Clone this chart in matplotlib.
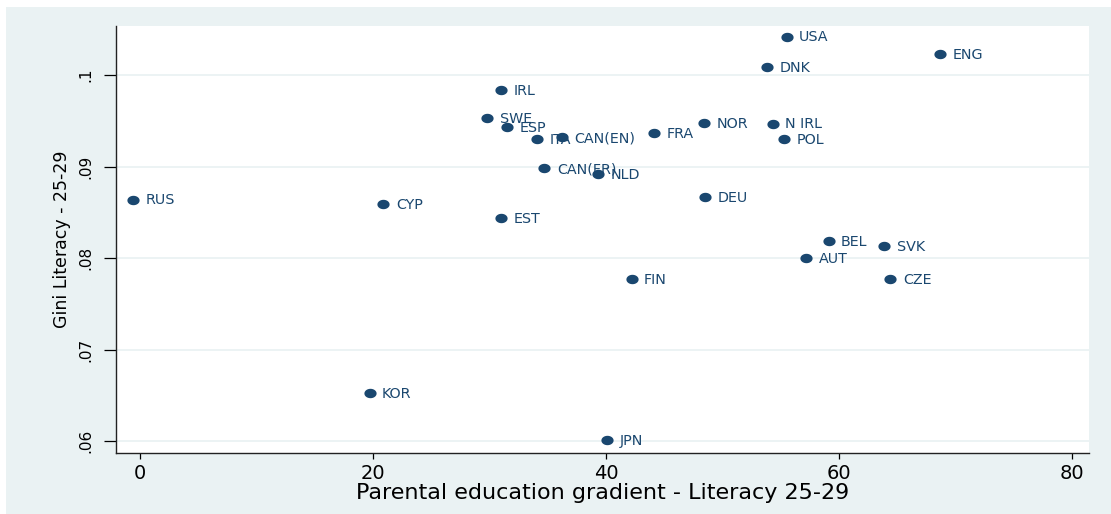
import matplotlib
matplotlib.use("Agg")
import matplotlib.pyplot as plt
import numpy as np
from matplotlib.patches import Rectangle
from matplotlib.path import Path

countries = ["USA", "ENG", "DNK", "IRL", "SWE", "ESP", "ITA", "CAN(EN)", "FRA", "NOR",
             "N IRL", "POL", "CAN(FR)", "NLD", "RUS", "CYP", "DEU", "EST", "BEL", "SVK",
             "AUT", "FIN", "CZE", "KOR", "JPN"]
gradient = [55.5, 68.7, 53.8, 31.0, 29.8, 31.5, 34.1, 36.2, 44.1, 48.4,
            54.3, 55.3, 34.7, 39.3, -0.6, 20.9, 48.5, 31.0, 59.1, 63.9,
            57.2, 42.2, 64.4, 19.7, 40.1]
gini = [0.1042, 0.1023, 0.1009, 0.0984, 0.0953, 0.0943, 0.0930, 0.0932, 0.0937, 0.0948,
        0.0947, 0.0930, 0.0898, 0.0892, 0.0864, 0.0859, 0.0867, 0.0844, 0.0819, 0.0813,
        0.0800, 0.0777, 0.0777, 0.0653, 0.0601]

x_ticks = [0, 20, 40, 60, 80]
x_ticklabels = ["0", "20", "40", "60", "80"]
y_ticks = [0.06, 0.07, 0.08, 0.09, 0.10]
y_ticklabels = [".06", ".07", ".08", ".09", ".1"]
x_title = "Parental education gradient - Literacy 25-29"
y_title = "Gini Literacy - 25-29"

NAVY = "#1a476f"
BG = "#eaf2f3"

plt.rcParams['font.family'] = ['DejaVu Sans']

fig = plt.figure(figsize=(11.11, 5.14), dpi=100, facecolor="white")
W, H = 1111, 514
fig.patches.append(Rectangle((6 / W, 0), 1 - 6 / W + 0.01, (H - 7) / H, transform=fig.transFigure,
                             facecolor=BG, edgecolor="none", zorder=-10))

left, right, top, bottom = 116, 1089, 26, 453
ax = fig.add_axes([left / W, 1 - bottom / H, (right - left) / W, (bottom - top) / H])
ax.set_zorder(5)
ax.set_facecolor("white")

# elliptical marker (image is horizontally stretched)
t = np.linspace(0, 2 * np.pi, 40)
ell = Path(np.column_stack([1.3 * np.cos(t), np.sin(t)]), closed=True)

ax.scatter(gradient, gini, marker=ell, s=8.8 ** 2, color=NAVY, zorder=3, linewidths=0)
for name, xv, yv in zip(countries, gradient, gini):
    ax.annotate(name, (xv, yv), xytext=(9, -0.6), textcoords="offset points",
                ha="left", va="center", fontsize=10.3, color=NAVY, zorder=4)

ax.set_xlim(-2.06, 81.46)
ax.set_ylim(0.05872, 0.10536)

ax.set_yticks(y_ticks)
ax.set_yticklabels(y_ticklabels, rotation=90, va="center", fontsize=11)
ax.set_xticks(x_ticks)
ax.set_xticklabels(x_ticklabels, fontsize=14)

for yv in y_ticks:
    ax.axhline(yv, color=BG, lw=1.3, zorder=1)

for s in ["top", "right"]:
    ax.spines[s].set_visible(False)
for s in ["left", "bottom"]:
    ax.spines[s].set_linewidth(1.0)
    ax.spines[s].set_color("#222222")

ax.tick_params(axis="y", length=8.4, width=0.9, pad=8, colors="black")
ax.tick_params(axis="x", length=4.3, width=0.9, pad=3.5, colors="black")

ax.set_xlabel(x_title, fontsize=16, labelpad=0.2)
ax.set_ylabel(y_title, fontsize=12.5, labelpad=5)

fig.savefig("out.png", dpi=100, facecolor=fig.get_facecolor())
